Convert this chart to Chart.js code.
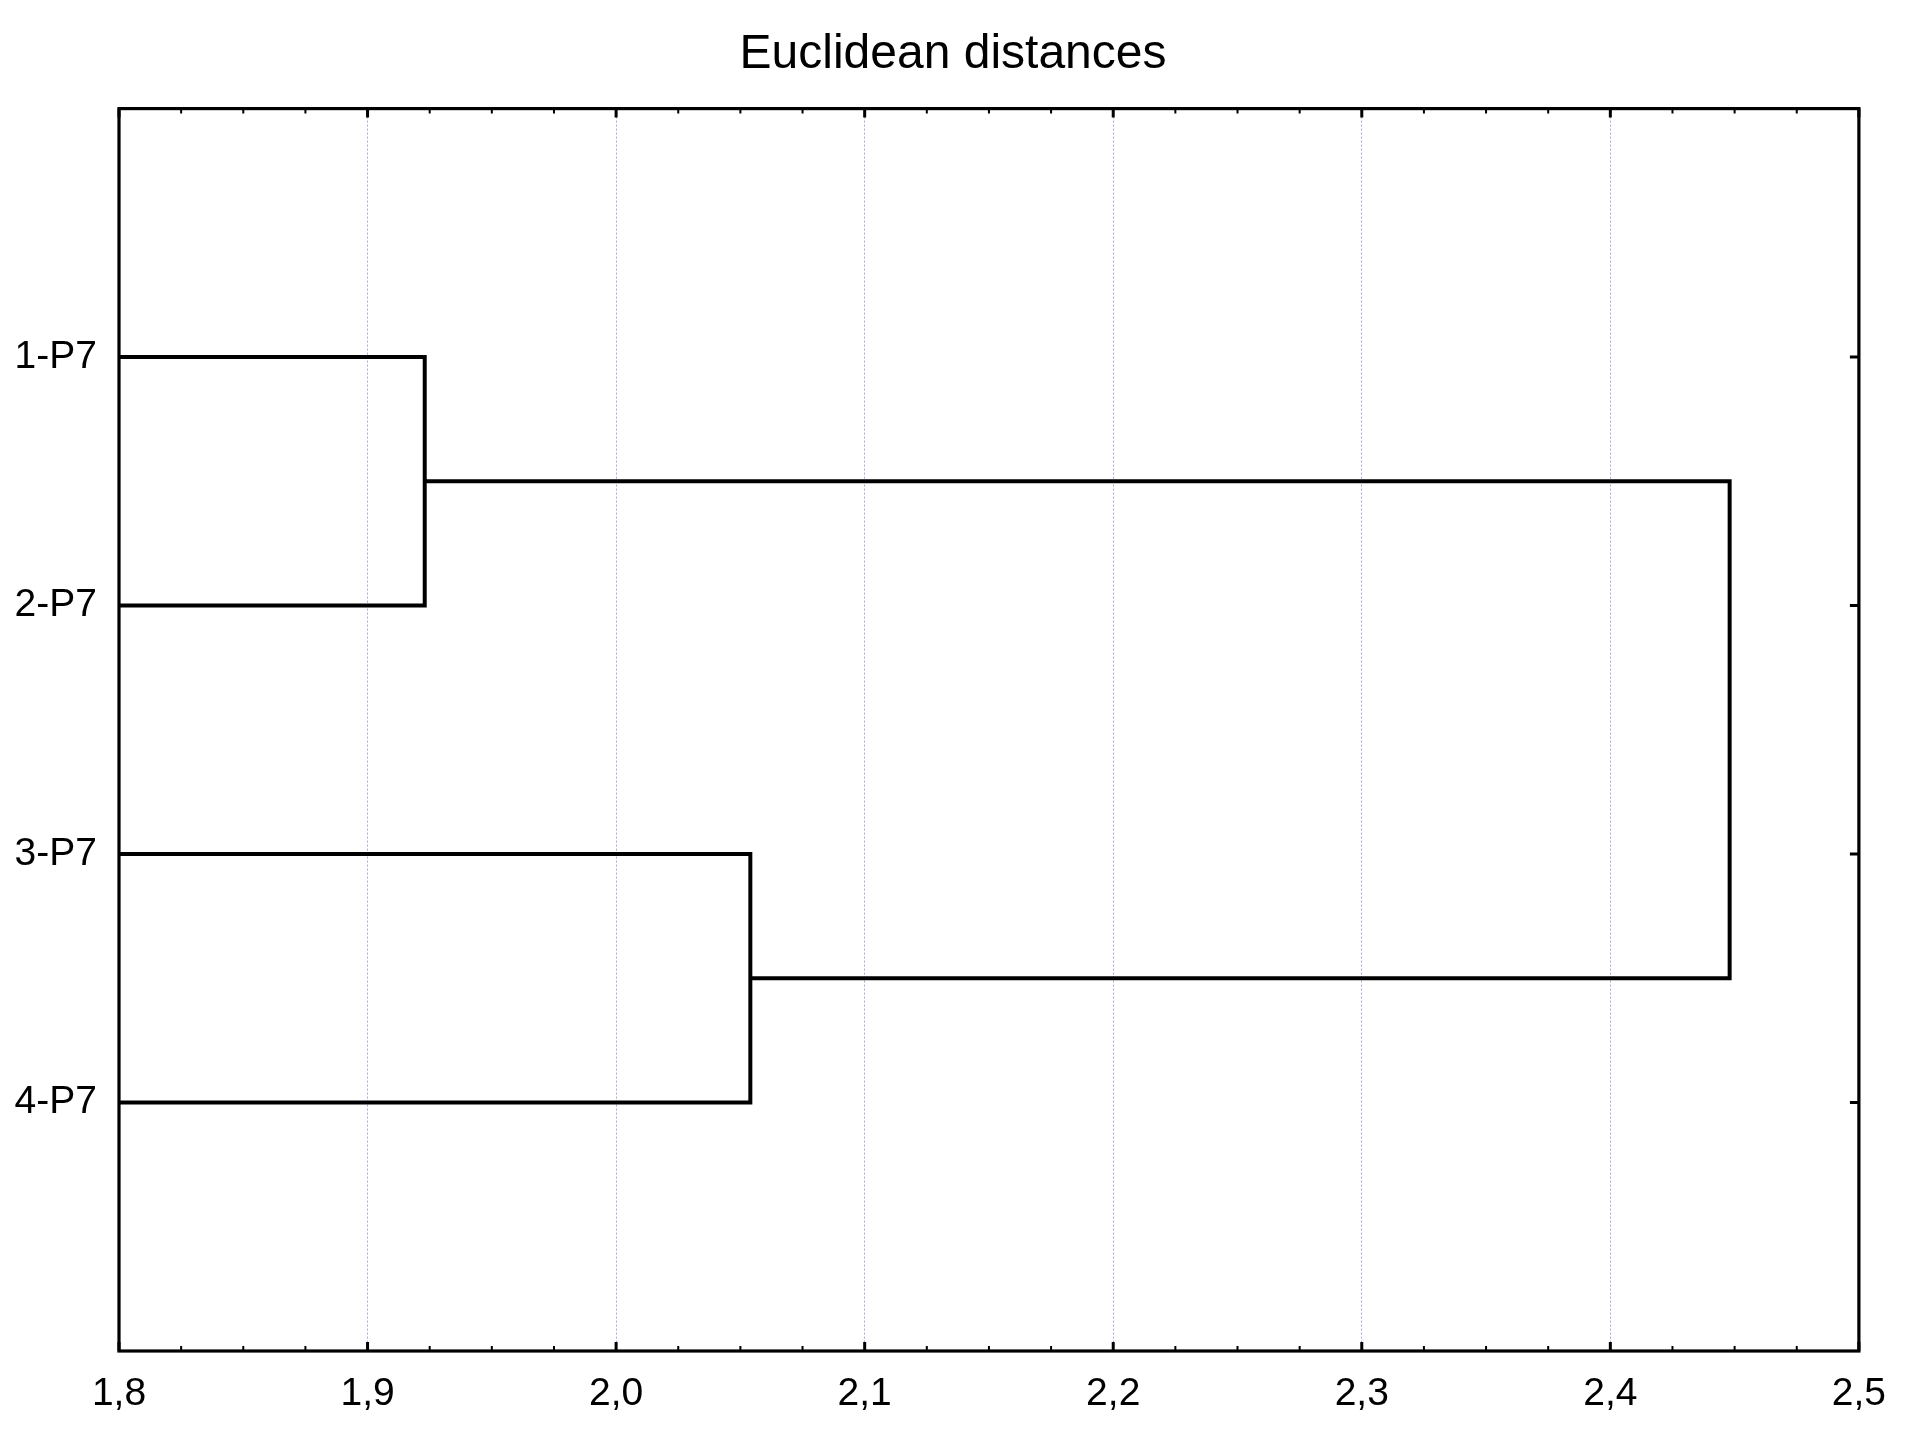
<!DOCTYPE html>
<html>
<head>
<meta charset="utf-8">
<script src="https://cdn.jsdelivr.net/npm/chart.js@4"></script>
<style>
  html, body { margin: 0; padding: 0; background: #fff; }
  #wrap { width: 1906px; height: 1431px; position: relative; }
</style>
</head>
<body>
<div id="wrap"><canvas id="dendro"></canvas></div>
<script>
// leaves, top to bottom
const leafLabels = ['1-P7', '2-P7', '3-P7', '4-P7'];
// merges: node ids 0..3 are leaves, merge k creates node 4+k
const mergeLeft = [0, 2, 4];
const mergeRight = [1, 3, 5];
const mergeDistance = [1.923, 2.054, 2.448];

const xMin = 1.8, xMax = 2.5, xStep = 0.1, xMinorStep = 0.025;

// node positions (leaves sit at distance 0, clipped by the axis)
const nodeX = leafLabels.map(() => 0);
const nodeY = leafLabels.map((l, i) => i + 1);
const linkSets = [];
for (let k = 0; k < mergeDistance.length; k++) {
  const a = mergeLeft[k], b = mergeRight[k], h = mergeDistance[k];
  linkSets.push({
    data: [
      { x: nodeX[a], y: nodeY[a] },
      { x: h, y: nodeY[a] },
      { x: h, y: nodeY[b] },
      { x: nodeX[b], y: nodeY[b] }
    ],
    showLine: true,
    borderColor: '#000',
    borderWidth: 4,
    borderJoinStyle: 'miter',
    borderCapStyle: 'butt',
    pointRadius: 0,
    tension: 0
  });
  nodeX.push(h);
  nodeY.push((nodeY[a] + nodeY[b]) / 2);
}

// frame around the plot plus inward ticks
const framePlugin = {
  id: 'frame',
  afterDatasetsDraw(chart) {
    const { ctx, chartArea: a, scales } = chart;
    ctx.save();
    ctx.strokeStyle = '#000';
    ctx.lineWidth = 3.2;
    ctx.strokeRect(a.left, a.top, a.right - a.left, a.bottom - a.top);

    // x ticks, top and bottom
    const n = Math.round((xMax - xMin) / xMinorStep);
    for (let i = 0; i <= n; i++) {
      const px = scales.x.getPixelForValue(xMin + i * xMinorStep);
      const major = i % 4 === 0;
      const len = major ? 9 : 5;
      ctx.lineWidth = major ? 3 : 2;
      ctx.beginPath();
      ctx.moveTo(px, a.bottom);
      ctx.lineTo(px, a.bottom - len);
      ctx.moveTo(px, a.top);
      ctx.lineTo(px, a.top + len);
      ctx.stroke();
    }
    // y ticks, left and right
    ctx.lineWidth = 3;
    leafLabels.forEach((l, i) => {
      const py = scales.y.getPixelForValue(i + 1);
      ctx.beginPath();
      ctx.moveTo(a.right, py);
      ctx.lineTo(a.right - 9, py);
      ctx.moveTo(a.left, py);
      ctx.lineTo(a.left + 9, py);
      ctx.stroke();
    });
    ctx.restore();
  }
};

const tickFont = { family: '"Liberation Sans", Arial, sans-serif', size: 39 };

new Chart(document.getElementById('dendro'), {
  type: 'scatter',
  data: { datasets: linkSets },
  options: {
    responsive: true,
    maintainAspectRatio: false,
    animation: false,
    devicePixelRatio: 1,
    layout: { padding: 0 },
    plugins: {
      legend: { display: false },
      tooltip: { enabled: false },
      title: {
        display: true,
        text: 'Euclidean distances',
        color: '#000',
        font: { family: '"Liberation Sans", Arial, sans-serif', size: 48, weight: 'normal', lineHeight: 1.2 },
        padding: { top: 26, bottom: 25 }
      }
    },
    scales: {
      x: {
        type: 'linear',
        min: xMin,
        max: xMax,
        ticks: {
          stepSize: xStep,
          color: '#000',
          font: tickFont,
          padding: 20,
          maxRotation: 0,
          callback: v => Number(v).toFixed(1).replace('.', ',')
        },
        grid: {
          drawTicks: false,
          color: 'rgba(160,150,210,0.85)',
          lineWidth: 1
        },
        border: { display: false, dash: [2, 2] },
        afterFit: s => { s.height = 80; }
      },
      y: {
        type: 'linear',
        min: 0,
        max: 5,
        reverse: true,
        ticks: {
          stepSize: 1,
          color: '#000',
          font: tickFont,
          padding: 22,
          callback: v => leafLabels[v - 1] || ''
        },
        grid: { display: false, drawTicks: false },
        border: { display: false },
        afterFit: s => { s.width = 119; }
      },
      // empty right-hand strip so the title stays centred on the canvas
      yRight: {
        type: 'linear',
        position: 'right',
        min: 0,
        max: 5,
        ticks: { display: false },
        grid: { display: false, drawTicks: false },
        border: { display: false },
        afterFit: s => { s.width = 47; }
      }
    }
  },
  plugins: [framePlugin]
});
</script>
</body>
</html>
